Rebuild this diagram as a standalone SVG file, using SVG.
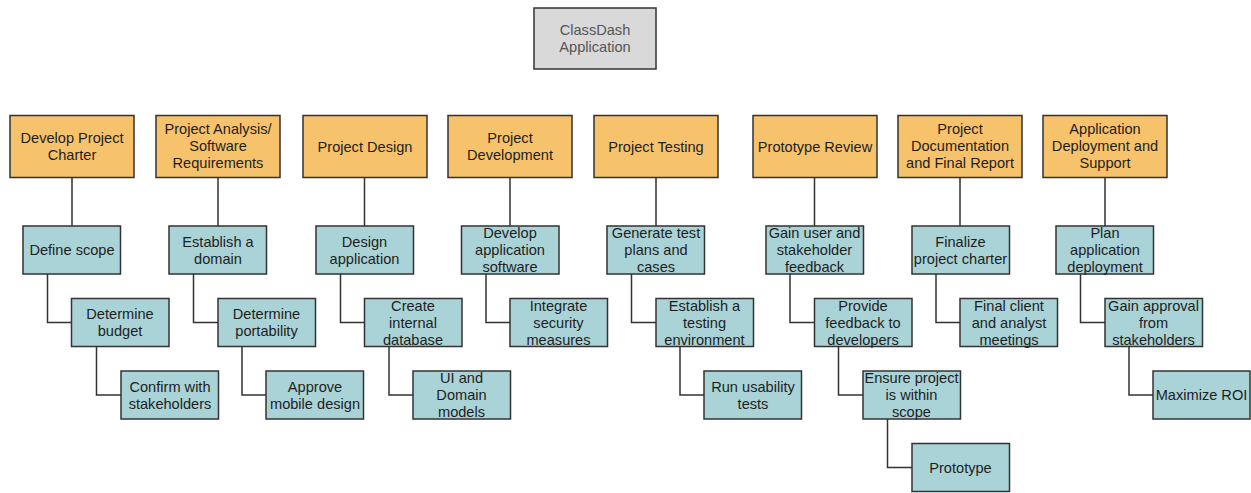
<svg xmlns="http://www.w3.org/2000/svg" width="1251" height="493" viewBox="0 0 1251 493">
<style>
rect{stroke:#333;stroke-width:1.5}
.root{fill:#d9d9d9}
.top{fill:#f6c26c}
.sub{fill:#a9d3d7}
text{font-family:"Liberation Sans",Arial,sans-serif;font-size:14.6px;fill:#1e1e1e;text-anchor:middle}
.rt{fill:#555}
#connectors path{fill:none;stroke:#333;stroke-width:1.5}
</style>
<rect width="1251" height="493" fill="#fff" style="stroke:none"/>
<g id="connectors">
<path d="M72 177.5V226M47.5 274V322.5H71.5M96.5 346.5V395H121"/>
<path d="M218 177.5V226M193.5 274V322.5H218M242 346.5V395H266"/>
<path d="M364.5 177.5V226M340.5 274V322.5H364.5M389 346.5V395H413"/>
<path d="M510 177.5V226M486 274V322.5H510"/>
<path d="M656 177.5V226M631.5 274V322.5H656M680 346.5V395H704"/>
<path d="M814.5 177.5V226M790 274V322.5H814.5M838.5 346.5V395H863M887.5 419V467.5H912"/>
<path d="M960 177.5V226M936 274V322.5H960"/>
<path d="M1105 177.5V226M1080.5 274V322.5H1105M1129 346.5V395H1153"/>
</g>
<g id="root"><rect class="root" x="534" y="8" width="122" height="61"/><text class="rt" x="595" y="35">ClassDash</text><text class="rt" x="595" y="52">Application</text></g>

<g id="c1"><rect class="top" x="10" y="115.5" width="124" height="62"/><text x="72" y="143">Develop Project</text><text x="72" y="160">Charter</text></g>
<g id="c1a"><rect class="sub" x="23" y="226" width="97.5" height="48"/><text x="72" y="255">Define scope</text></g>
<g id="c1b"><rect class="sub" x="71.5" y="298.5" width="97.5" height="48"/><text x="120" y="319">Determine</text><text x="120" y="336">budget</text></g>
<g id="c1c"><rect class="sub" x="121" y="371" width="97.5" height="48"/><text x="170" y="391.5">Confirm with</text><text x="170" y="408.5">stakeholders</text></g>

<g id="c2"><rect class="top" x="156" y="115.5" width="124" height="62"/><text x="218" y="133.5">Project Analysis/</text><text x="218" y="150.5">Software</text><text x="218" y="167.5">Requirements</text></g>
<g id="c2a"><rect class="sub" x="169" y="226" width="97.5" height="48"/><text x="218" y="246.5">Establish a</text><text x="218" y="263.5">domain</text></g>
<g id="c2b"><rect class="sub" x="218" y="298.5" width="97.5" height="48"/><text x="266.5" y="319">Determine</text><text x="266.5" y="336">portability</text></g>
<g id="c2c"><rect class="sub" x="266" y="371" width="97.5" height="48"/><text x="315" y="391.5">Approve</text><text x="315" y="408.5">mobile design</text></g>

<g id="c3"><rect class="top" x="303" y="115.5" width="124" height="62"/><text x="365" y="151.5">Project Design</text></g>
<g id="c3a"><rect class="sub" x="316" y="226" width="97.5" height="48"/><text x="364.5" y="246.5">Design</text><text x="364.5" y="263.5">application</text></g>
<g id="c3b"><rect class="sub" x="364.5" y="298.5" width="97.5" height="48"/><text x="413" y="310.5">Create</text><text x="413" y="327.5">internal</text><text x="413" y="344.5">database</text></g>
<g id="c3c"><rect class="sub" x="413" y="371" width="97.5" height="48"/><text x="461.5" y="383">UI and</text><text x="461.5" y="400">Domain</text><text x="461.5" y="417">models</text></g>

<g id="c4"><rect class="top" x="448" y="115.5" width="124" height="62"/><text x="510" y="143">Project</text><text x="510" y="160">Development</text></g>
<g id="c4a"><rect class="sub" x="461.5" y="226" width="97.5" height="48"/><text x="510" y="238">Develop</text><text x="510" y="255">application</text><text x="510" y="272">software</text></g>
<g id="c4b"><rect class="sub" x="510" y="298.5" width="97.5" height="48"/><text x="558.5" y="310.5">Integrate</text><text x="558.5" y="327.5">security</text><text x="558.5" y="344.5">measures</text></g>

<g id="c5"><rect class="top" x="594" y="115.5" width="124" height="62"/><text x="656" y="151.5">Project Testing</text></g>
<g id="c5a"><rect class="sub" x="607" y="226" width="97.5" height="48"/><text x="656" y="238">Generate test</text><text x="656" y="255">plans and</text><text x="656" y="272">cases</text></g>
<g id="c5b"><rect class="sub" x="656" y="298.5" width="97.5" height="48"/><text x="704.5" y="310.5">Establish a</text><text x="704.5" y="327.5">testing</text><text x="704.5" y="344.5">environment</text></g>
<g id="c5c"><rect class="sub" x="704" y="371" width="97.5" height="48"/><text x="753" y="391.5">Run usability</text><text x="753" y="408.5">tests</text></g>

<g id="c6"><rect class="top" x="753" y="115.5" width="124" height="62"/><text x="815" y="151.5">Prototype Review</text></g>
<g id="c6a"><rect class="sub" x="766" y="226" width="97.5" height="48"/><text x="814.5" y="238">Gain user and</text><text x="814.5" y="255">stakeholder</text><text x="814.5" y="272">feedback</text></g>
<g id="c6b"><rect class="sub" x="814.5" y="298.5" width="97.5" height="48"/><text x="863" y="310.5">Provide</text><text x="863" y="327.5">feedback to</text><text x="863" y="344.5">developers</text></g>
<g id="c6c"><rect class="sub" x="863" y="371" width="97.5" height="48"/><text x="911.5" y="383">Ensure project</text><text x="911.5" y="400">is within</text><text x="911.5" y="417">scope</text></g>
<g id="c6d"><rect class="sub" x="912" y="443.5" width="97.5" height="48"/><text x="960.5" y="472.5">Prototype</text></g>

<g id="c7"><rect class="top" x="898" y="115.5" width="124" height="62"/><text x="960" y="133.5">Project</text><text x="960" y="150.5">Documentation</text><text x="960" y="167.5">and Final Report</text></g>
<g id="c7a"><rect class="sub" x="912" y="226" width="97.5" height="48"/><text x="960.5" y="246.5">Finalize</text><text x="960.5" y="263.5">project charter</text></g>
<g id="c7b"><rect class="sub" x="960" y="298.5" width="97.5" height="48"/><text x="1009" y="310.5">Final client</text><text x="1009" y="327.5">and analyst</text><text x="1009" y="344.5">meetings</text></g>

<g id="c8"><rect class="top" x="1043" y="115.5" width="124" height="62"/><text x="1105" y="133.5">Application</text><text x="1105" y="150.5">Deployment and</text><text x="1105" y="167.5">Support</text></g>
<g id="c8a"><rect class="sub" x="1056" y="226" width="97.5" height="48"/><text x="1105" y="238">Plan</text><text x="1105" y="255">application</text><text x="1105" y="272">deployment</text></g>
<g id="c8b"><rect class="sub" x="1105" y="298.5" width="97.5" height="48"/><text x="1153.5" y="310.5">Gain approval</text><text x="1153.5" y="327.5">from</text><text x="1153.5" y="344.5">stakeholders</text></g>
<g id="c8c"><rect class="sub" x="1153" y="371" width="97" height="48"/><text x="1201.5" y="400">Maximize ROI</text></g>
</svg>
